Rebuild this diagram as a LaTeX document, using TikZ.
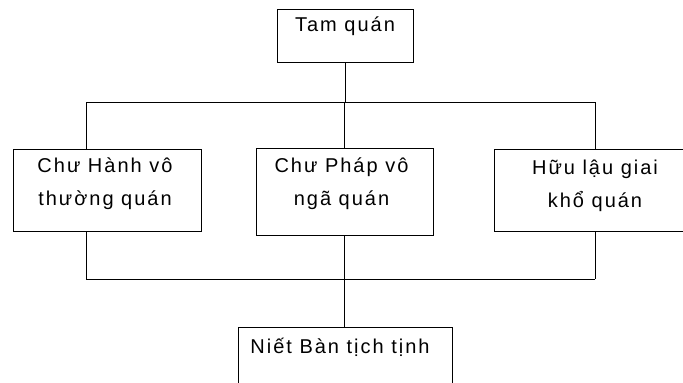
\documentclass[tikz,border=0pt]{standalone}
\usepackage{fontspec}
\setmainfont[LetterSpace=10]{Liberation Sans}

\begin{document}
\begin{tikzpicture}[x=1pt,y=-1pt,
    box/.style={draw,line width=1pt,inner sep=0pt},
    boxtext/.style={anchor=base,align=center,inner sep=0pt,font=\fontsize{20}{33}\selectfont}]
  \clip (0,0) rectangle (683,383);

  \node[box,minimum width=136pt,minimum height=53pt] (tam) at (345,35.5) {};
  \node[box,minimum width=188pt,minimum height=82pt] (hanh) at (107,190) {};
  \node[box,minimum width=177pt,minimum height=87pt] (phap) at (344.5,191.5) {};
  \node[box,minimum width=202pt,minimum height=82pt] (huu) at (595,190) {};
  \node[box,minimum width=214pt,minimum height=80pt] (niet) at (345,367) {};

  % two-line texts sit on the baseline of their last line
  \node[boxtext] (tamtext) at ([yshift=-23pt]tam.north) {Tam quán};
  \node[boxtext] (hanhtext) at ([xshift=-2pt,yshift=-57pt]hanh.north) {Chư Hành vô\\thường quán};
  \node[boxtext] (phaptext) at ([xshift=-3pt,yshift=-58pt]phap.north) {Chư Pháp vô\\ngã quán};
  \node[boxtext] (huutext) at ([yshift=-59pt]huu.north) {Hữu lậu giai\\khổ quán};
  \node[boxtext] (niettext) at ([xshift=-5pt,yshift=-27pt]niet.north) {Niết Bàn tịch tịnh};

  \coordinate (topL) at (86,102);
  \coordinate (topR) at (595,102);
  \coordinate (botL) at (86,279);
  \coordinate (botR) at (595,279);

  \draw [line width=1pt] (topL) -- (topR);
  \draw [line width=1pt] (tam.south) -- (tam.south |- topL);
  \draw [line width=1pt] (topL) -- (topL |- hanh.north);
  \draw [line width=1pt] (phap.north) -- (phap.north |- topL);
  \draw [line width=1pt] (topR) -- (topR |- huu.north);

  \draw [line width=1pt] (botL) -- (botR);
  \draw [line width=1pt] (botL) -- (botL |- hanh.south);
  \draw [line width=1pt] (botR) -- (botR |- huu.south);
  \draw [line width=1pt] (phap.south) -- (phap.south |- niet.north);
\end{tikzpicture}
\end{document}
